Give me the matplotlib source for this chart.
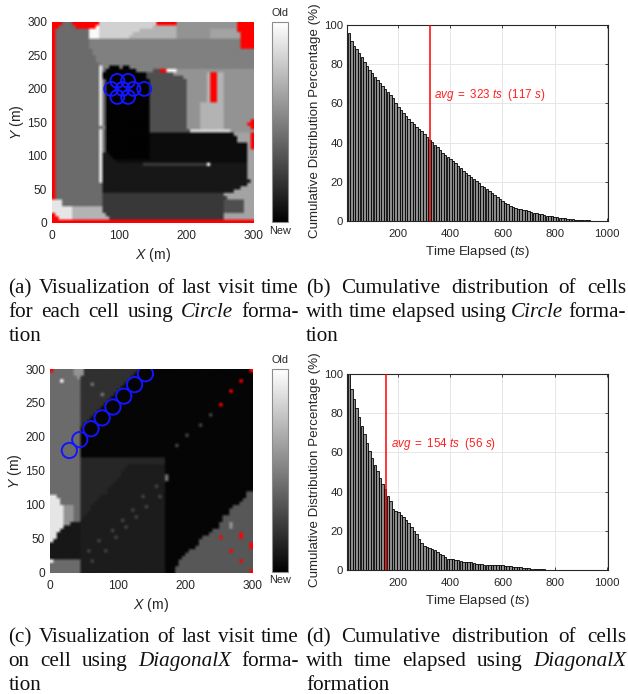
import re
import numpy as np
import matplotlib
matplotlib.use("Agg")
import matplotlib.pyplot as plt
from matplotlib.colors import Normalize
from matplotlib.cm import ScalarMappable

W, H = 628, 694
plt.rcParams['font.family'] = ['Liberation Sans', 'DejaVu Sans']
plt.rcParams['mathtext.fontset'] = 'custom'
plt.rcParams['mathtext.it'] = 'Liberation Sans:italic'
plt.rcParams['mathtext.rm'] = 'Liberation Sans'

# ---------- data ----------
time_bins = list(range(10, 1001, 10))
circle_cdf = [96, 92, 89.5, 87.5, 85.5, 83.5, 81, 79, 77, 75.5, 73.5, 72, 70.5, 69, 67.5, 66, 64.5, 62.5, 60, 58,
              56.5, 55, 53.5, 52, 50.5, 49.5, 48, 47, 46, 44.5, 43, 41.5, 40.5, 39, 37.5, 36, 34.8, 33.7, 32.8, 31.5,
              30.5, 29.5, 28, 27, 25.5, 24.5, 23.5, 22.5, 21.5, 20.5, 19.2, 18, 17.2, 16.2, 15.3, 14.3, 13.3, 12.3, 11.3, 10.2,
              9.3, 8.5, 7.8, 7.3, 6.7, 6.2, 5.9, 5.7, 5.5, 5.1, 4.5, 4.1, 4.0, 3.8, 3.4, 3.0, 2.7, 2.4, 2.3, 2.1,
              1.9, 1.5, 1.4, 1.3, 1.1, 1.0, 0.8, 0.7, 0.6, 0.5, 0.45, 0.35, 0.3, 0.2, 0.15, 0.12, 0.1, 0.08, 0.05, 0.03]
diagonal_cdf = [100, 92.5, 87.5, 82.5, 78, 73.5, 69.5, 65, 60.5, 57, 53.5, 50.5, 47, 44, 41.5, 38, 35, 31, 30.2, 29.7,
                28.2, 27, 25.5, 24, 22, 20, 18.5, 16, 14, 12.5, 11.7, 11, 10.5, 10, 9.3, 8.3, 7.5, 6.5, 5.8, 5.6,
                5.5, 5.3, 5.1, 4.7, 4.3, 4.2, 4.1, 3.9, 3.5, 3.1, 3.0, 2.9, 2.8, 2.7, 2.7, 2.6, 2.6, 2.6, 2.5, 2.3,
                1.9, 1.8, 1.8, 1.7, 1.7, 1.6, 1.3, 1.1, 0.9, 0.8, 0.7, 0.7, 0.6, 0.6, 0.5, 0.3, 0.2, 0.1, 0.1, 0.1,
                0.08, 0.08, 0.07, 0.07, 0.06, 0.06, 0.05, 0.05, 0.05, 0.04, 0.04, 0.04, 0.03, 0.03, 0.03, 0.02, 0.02, 0.02, 0.01, 0.01]
circle_avg = 323
diagonal_avg = 154
circle_label = r"$\mathit{avg\ =\ 323\ ts}$  (117 $\mathit{s}$)"
diagonal_label = r"$\mathit{avg\ =\ 154\ ts}$  (56 $\mathit{s}$)"

circle_x = [97, 113, 88, 105, 121, 137, 97, 113]
circle_y = [212, 212, 200, 200, 200, 200, 188, 188]
diag_x = [28.6, 44, 60.6, 77, 93, 109, 125, 141]
diag_y = [180, 196, 212, 228, 244, 260, 277, 293]

levels_a = dict(a=.01, b=.05, c=.09, d=.22, e=.31, f=.42, g=.50, h=.58, i=.64, j=.70, k=.82, l=.90, m=.98)
rows_a = [
 "R3 f3 R8 k17 R6 h18 R5", "R2 f5 R6 m1 k16 j7 h18 R5", "R1 f10 m3 k12 j11 h10 i8 R5", "R1 f10 m3 k10 j13 h10 i9 R4",
 "R1 f10 m3 k9 j14 h10 i9 R4", "R1 f10 g45 R4", "R1 f10 g45 R4", "R1 f10 g45 R4", "R1 f11 g48", "R1 f11 g48",
 "R1 f12 g47", "R1 f12 g47", "R1 f13 g46", "R1 f13 l1 g2 a3 g1 a2 g37", "R1 f13 l1 f1 a9 g5 e2 R2 m3 h23",
 "R1 f13 l1 a13 e8 h10 j1 R2 j2 h9", "R1 f13 l1 a13 e11 h7 j1 R2 j2 h9", "R1 f13 l1 f1 a13 e11 h6 j1 R2 j2 h9",
 "R1 f13 l1 f1 a13 e11 h6 j1 R2 j2 h9", "R1 f13 l1 f1 a13 e11 h6 j1 R2 j2 h9", "R1 f13 l1 f1 a13 e11 h6 j1 R2 j2 h9",
 "R1 f13 l1 f1 a13 e11 h6 j1 R2 j2 h9", "R1 f13 l1 f1 a13 e11 h6 j1 R2 j2 h9", "R1 f13 l1 f1 a13 e11 h6 j1 R2 j2 h9",
 "R1 f13 l1 f1 a13 e11 h4 j7 h9", "R1 f13 l1 f1 a13 e11 h4 j7 h9", "R1 f13 l1 f1 a13 e11 h4 j7 h9",
 "R1 f13 l1 f1 a13 e11 h4 j7 h9", "R1 f13 l1 f1 a13 e11 h4 j7 h9", "R1 f13 l1 f1 a13 e11 h4 j7 h8 R1",
 "R1 f13 l1 f1 a13 e11 h4 j7 h7 R2", "R1 f13 g2 a13 e11 h4 j7 h8 R1", "R1 f13 l1 f1 a13 e12 k12 h7",
 "R1 f13 l1 f1 a13 b25 i5 R1", "R1 f13 l1 f1 a13 b26 i4 R1", "R1 f13 l1 f1 a13 b26 i4 R1", "R1 f13 l1 f1 a13 b29 i1 R1",
 "R1 f13 l1 f1 a13 b29 i1 R1", "R1 f13 l1 f1 a13 b29 i2", "R1 f13 l1 c2 a12 b29 i2", "R1 f13 l1 c3 a11 b29 i2",
 "R1 f13 l1 c4 b39 i2", "R1 f13 l1 c12 d19 l1 c11 i2", "R1 f13 l1 c43 i2", "R1 f13 l1 c43 i2", "R1 f13 l1 c43 i2",
 "R1 f13 l1 c43 i2", "R1 f13 l1 c44 i1", "R1 f13 f1 c43 i2", "R1 f14 c41 i4", "R1 f14 c39 i6", "R1 f14 d36 i9",
 "R1 f14 d37 i8", "l3 f12 d36 e6 i3", "l3 f12 d36 e6 i3", "l6 j9 d36 e6 i3", "l6 j9 d36 e6 i3", "R1 l5 j10 d35 i9",
 "R2 l4 j11 d34 i9", "R60",
]

levels_c = dict(a=.02, b=.05, c=.09, d=.11, e=.15, f=.19, g=.26, h=.34, i=.42, j=.45, k=.58, l=.90, m=.98)
rows_c = [
 "R1 i6 k3 f16 a33 R1", "i7 k3 f15 a35", "i8 k1 f15 a36", "i3 m1 i5 f14 a33 R1 a3", "i9 f3 j1 f9 a38", "i9 f12 a39",
 "i9 f11 a33 R1 a6", "i9 f6 j1 f3 a41", "i9 f9 a42", "i9 f8 a43", "i9 f7 a34 R1 a9", "i9 f6 a45", "i9 f5 a46",
 "i9 f4 a34 g1 a12", "i9 f3 a48", "i9 f2 a49", "i9 f1 a34 g1 a15", "i9 a51", "i9 a51", "i9 a31 g1 a19", "i9 a51", "i9 a51",
 "i9 a28 g1 a22", "i9 a51", "i9 a51", "i9 a51", "i9 e25 a26", "i9 e25 a26", "i9 e14 d11 a26", "i9 e13 d12 a26",
 "i9 e12 d13 a26", "i9 e12 d13 j1 a25", "i9 e11 d14 j1 a25", "i9 e10 d15 a26", "i9 e9 d13 g1 d2 a26", "i9 e8 d17 a26",
 "i9 e8 d17 a24 h2", "l2 i7 e6 d12 g1 d4 g1 d1 a24 h2", "l3 i6 e5 d20 a23 h3", "l3 i6 e4 d21 a22 h4",
 "l4 k3 i2 e3 d16 g1 d5 a20 h6", "l4 k3 i2 e3 d12 g1 d9 a19 h7", "l4 k3 i2 e2 d23 a19 h7", "l4 k3 i2 e1 d15 g1 d8 a17 h9",
 "l4 k3 i2 d12 g1 d12 a17 h9", "l4 k2 c3 d25 a16 h3 k1 h6", "l4 c5 d13 g1 d11 a16 h3 k1 h6", "l3 c6 d9 g1 d15 a14 h12",
 "l2 c7 d25 a13 h9 R1 h3", "l2 c7 d10 g1 d14 a11 h5 R1 h5 R1 h3", "l1 c8 d5 g1 d19 a10 h16", "c9 d25 a10 h15 R1",
 "c9 d25 a9 h16 R1", "c9 d2 g1 d4 g1 d17 a7 h12 R1 h6", "c9 d25 a6 h20", "c9 d25 a5 h21", "m1 i8 d3 g1 d21 a4 h18 R1 h3",
 "i9 d25 a4 h22", "i9 d25 a3 h23", "i9 d25 a3 h22 R1",
]

caption_a = ["(a) Visualization of last visit time", "for each cell using *Circle* forma-", "tion"]
caption_b = ["(b) Cumulative distribution of cells", "with time elapsed using *Circle* forma-", "tion"]
caption_c = ["(c) Visualization of last visit time", "on cell using *DiagonalX* forma-", "tion"]
caption_d = ["(d) Cumulative distribution of cells", "with time elapsed using *DiagonalX*", "formation"]

# ---------- helpers ----------
INK = '#262626'


def decode(rows, levels):
    out = []
    for row in rows:
        vals = []
        for ch, n in re.findall(r'([A-Za-z])(\d+)', row):
            vals += [np.nan if ch == 'R' else levels[ch]] * int(n)
        vals = (vals + [vals[-1]] * 60)[:60]
        out.append(vals)
    return np.array(out)


def px_axes(fig, x0, y0, x1, y1):
    return fig.add_axes([x0 / W, 1 - y1 / H, (x1 - x0) / W, (y1 - y0) / H])


def style(ax, fs):
    ax.tick_params(direction='in', length=2.5, width=.6, colors=INK, labelsize=fs, pad=2.5, top=True, right=True)
    ax.tick_params(axis='x', pad=5.5)
    for s in ax.spines.values():
        s.set_color(INK)
        s.set_linewidth(.8)


def draw_map(fig, box, cbox, rows, levels, xs, ys, size, old_y, new_y):
    ax = px_axes(fig, *box)
    cmap = plt.get_cmap('gray').copy()
    cmap.set_bad('#ff0000')
    rgba = cmap(Normalize(0, 1)(np.ma.masked_invalid(decode(rows, levels))))
    ax.imshow(rgba, extent=(0, 300, 0, 300), origin='upper', aspect='auto', interpolation='bilinear')
    ax.scatter(xs, ys, s=size, facecolors='none', edgecolors='#1414ff', linewidths=1.4, zorder=3)
    ax.set_xlim(0, 300)
    ax.set_ylim(0, 300)
    ax.set_xticks([0, 100, 200, 300])
    ax.set_yticks([0, 50, 100, 150, 200, 250, 300])
    style(ax, 8.6)
    ax.tick_params(length=0)
    ax.tick_params(axis='y', pad=3.5)
    for s in ax.spines.values():
        s.set_visible(False)
    ax.set_xlabel(r"$\mathit{X}$ (m)", fontsize=10.2, color=INK)
    ax.set_ylabel(r"$\mathit{Y}$ (m)", fontsize=10.2, color=INK)
    ax.xaxis.set_label_coords(.5, -.115)
    ax.yaxis.set_label_coords(-.128, .5)
    cax = px_axes(fig, *cbox)
    cb = fig.colorbar(ScalarMappable(Normalize(0, 1), cmap), cax=cax)
    cb.set_ticks([])
    cb.outline.set_edgecolor('#8c8c8c')
    cb.outline.set_linewidth(.8)
    cx = (cbox[0] + cbox[2]) / 2 / W
    fig.text(cx, 1 - old_y / H, "Old", ha='center', va='baseline', fontsize=7.8, color=INK)
    fig.text(cx, 1 - new_y / H, "New", ha='center', va='baseline', fontsize=7.8, color=INK)


def draw_bars(fig, box, values, avg, label, tx, ty):
    ax = px_axes(fig, *box)
    ax.bar(time_bins, values, width=9.5, color='#8c8c8c', edgecolor='black', linewidth=.6, zorder=2, clip_on=False)
    ax.axvline(avg, color='#ff0000', lw=1.1, zorder=3)
    ax.text(tx, ty, label, color='#ff2020', fontsize=8.4, va='baseline', zorder=4)
    ax.set_xlim(2, 1005)
    ax.set_ylim(0, 100)
    ax.set_xticks([200, 400, 600, 800, 1000])
    ax.set_yticks([0, 20, 40, 60, 80, 100])
    ax.grid(True, color='#e6e6e6', lw=.7, zorder=0)
    ax.set_axisbelow(True)
    style(ax, 8.2)
    ax.set_xlabel(r"Time Elapsed ($\mathit{ts}$)", fontsize=9.5, color=INK)
    ax.set_ylabel("Cumulative Distribution Percentage (%)", fontsize=9.6, color=INK)
    ax.xaxis.set_label_coords(.5, -.115)
    ax.yaxis.set_label_coords(-.098, .51)


def caption(fig, lines, x0, x1, baselines):
    rend = fig.canvas.get_renderer()
    for i, (line, by) in enumerate(zip(lines, baselines)):
        words = line.split()
        artists = []
        for w in words:
            it = w.startswith('*')
            artists.append(fig.text(0, 1 - by / H, w.strip('*'), family='Liberation Serif', fontsize=15.2,
                                    style='italic' if it else 'normal', va='baseline', ha='left', color='#111111'))
        ws = [a.get_window_extent(rend).width for a in artists]
        last = i == len(lines) - 1
        gap = 5.0 if last or len(words) == 1 else (x1 - x0 - sum(ws)) / (len(words) - 1)
        x = x0
        for a, w in zip(artists, ws):
            a.set_x(x / W)
            x += w + gap


# ---------- figure ----------
fig = plt.figure(figsize=(W / 100, H / 100), dpi=100)
draw_map(fig, (52, 22, 254, 222.7), (272, 22, 288, 222), rows_a, levels_a, circle_x, circle_y, 100, 16, 234)
draw_map(fig, (50, 369, 253, 572.7), (272, 369, 288, 572), rows_c, levels_c, diag_x, diag_y, 121, 363, 583)
draw_bars(fig, (346.7, 25, 608, 221), circle_cdf, circle_avg, circle_label, 338, 62.7)
draw_bars(fig, (346.7, 374, 608, 570), diagonal_cdf, diagonal_avg, diagonal_label, 171, 62.9)
caption(fig, caption_a, 8.5, 299, (293, 317, 341))
caption(fig, caption_b, 306, 626, (293, 317, 341))
caption(fig, caption_c, 8.5, 299, (642, 666, 690))
caption(fig, caption_d, 306, 626, (642, 666, 690))
fig.savefig("out.png", dpi=100)
